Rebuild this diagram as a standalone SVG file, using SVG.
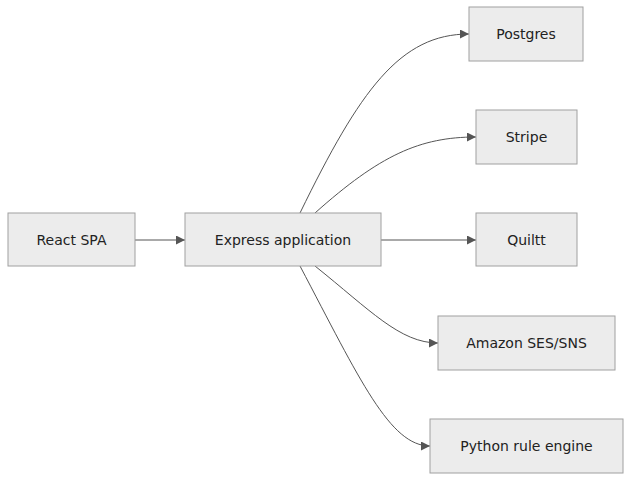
<svg xmlns="http://www.w3.org/2000/svg" width="639" height="486" viewBox="0 0 639 486">
<style>
.n rect{fill:#ececec;stroke:#a0a0a0;stroke-width:1}
.n text{font-family:"DejaVu Sans","Liberation Sans",sans-serif;font-size:14px;fill:#222;text-anchor:middle;dominant-baseline:central}
.e path{fill:none;stroke:#555;stroke-width:1;marker-end:url(#a)}
</style>
<defs><marker id="a" viewBox="0 0 10 10" refX="10" refY="5" markerWidth="9" markerHeight="9" orient="auto" markerUnits="userSpaceOnUse"><path d="M0,0L10,5L0,10z" fill="#555"/></marker></defs>
<rect width="639" height="486" fill="#fff"/>
<g class="e">
<path d="M135,240H185"/>
<path d="M300,213C360,90 400,34 469,34"/>
<path d="M315,213C380,155 420,137 476,137"/>
<path d="M381,240H476"/>
<path d="M315,266C370,310 400,343 438,343"/>
<path d="M300,266C360,380 390,446 430,446"/>
</g>
<g class="n" id="react"><rect x="8" y="213" width="127" height="53"/><text x="71.5" y="240">React SPA</text></g>
<g class="n" id="express"><rect x="185" y="213" width="196" height="53"/><text x="283" y="240">Express application</text></g>
<g class="n" id="postgres"><rect x="469" y="7" width="114" height="54"/><text x="526" y="34">Postgres</text></g>
<g class="n" id="stripe"><rect x="476" y="110" width="101" height="54"/><text x="526.5" y="137">Stripe</text></g>
<g class="n" id="quiltt"><rect x="476" y="213" width="101" height="53"/><text x="526.5" y="240">Quiltt</text></g>
<g class="n" id="ses"><rect x="438" y="316" width="177" height="54"/><text x="526.5" y="343">Amazon SES/SNS</text></g>
<g class="n" id="python"><rect x="430" y="419" width="193" height="54"/><text x="526.5" y="446">Python rule engine</text></g>
</svg>
